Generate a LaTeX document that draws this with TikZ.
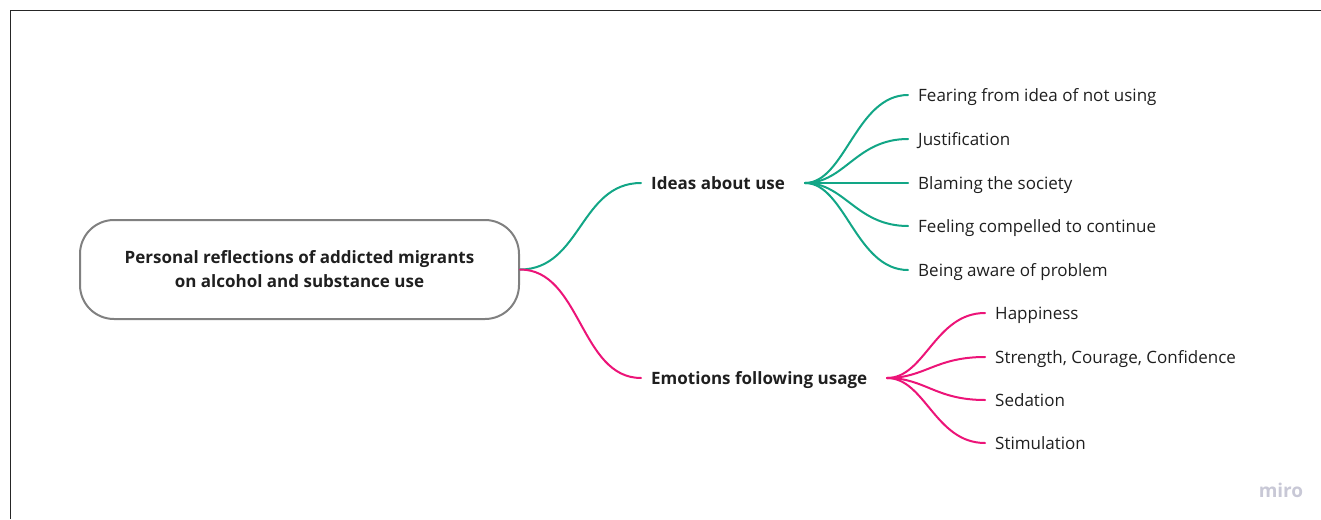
\documentclass[tikz,border=0pt]{standalone}
\usepackage{fontspec}
\setmainfont{Open Sans}
\begin{document}
\begin{tikzpicture}[x=1pt,y=-1pt,
  txt/.style={font=\fontsize{17}{24}\selectfont, text=black!88, inner xsep=10pt, inner ysep=0pt,
              text height=13pt, text depth=1pt, anchor=west},
  topic/.style={txt, font=\fontsize{17}{24}\selectfont\bfseries},
  rootbox/.style={draw=black!50, line width=2pt, rounded corners=34pt, minimum width=439pt,
                  minimum height=99pt, align=center, font=\fontsize{17}{24}\selectfont\bfseries, text=black!88},
  link/.style={line width=2pt, line cap=round},
  greenlink/.style={link, draw={rgb,255:red,18;green,166;blue,134}},
  pinklink/.style={link, draw={rgb,255:red,236;green,20;blue,120}},
]
\useasboundingbox (0,0) rectangle (1321,519);
% frame
\draw[black!85, line width=1pt] (10.5,519) -- (10.5,10.5) -- (1321,10.5);

% central topic
\node[rootbox] (root) at (299.5,269.5) {Personal reflections of addicted migrants\\on alcohol and substance use};

% main branches
\node[topic] (ideas) at (641,183) {Ideas about use};
\node[topic] (emo) at (641,378) {Emotions following usage};
\coordinate (ihub) at (805,183);
\coordinate (ehub) at (887,378);

% leaves of the first branch
\node[txt] (i1) at (908,95) {Fearing from idea of not using};
\node[txt] (i2) at (908,139) {Justification};
\node[txt] (i3) at (908,183) {Blaming the society};
\node[txt] (i4) at (908,226) {Feeling compelled to continue};
\node[txt] (i5) at (908,270) {Being aware of problem};

% leaves of the second branch
\node[txt] (e1) at (985,313) {Happiness};
\node[txt] (e2) at (985,357) {Strength, Courage, Confidence};
\node[txt] (e3) at (985,400) {Sedation};
\node[txt] (e4) at (985,443) {Stimulation};

% connectors
\draw[greenlink] (root.east) .. controls +(61,0) and +(-61,0) .. (ideas.west);
\draw[pinklink] (root.east) .. controls +(61,0) and +(-61,0) .. (emo.west);
\foreach \n in {i1,i2,i3,i4,i5}
  \draw[greenlink] (ihub) .. controls +(40,0) and +(-52,0) .. (\n.west);
\foreach \n in {e1,e2,e3,e4}
  \draw[pinklink] (ehub) .. controls +(38,0) and +(-50,0) .. (\n.west);

% watermark
\node[font=\fontsize{19}{22}\selectfont\bfseries, text={rgb,255:red,200;green,200;blue,214}] (wm) at (1281,490) {miro};
\end{tikzpicture}
\end{document}
